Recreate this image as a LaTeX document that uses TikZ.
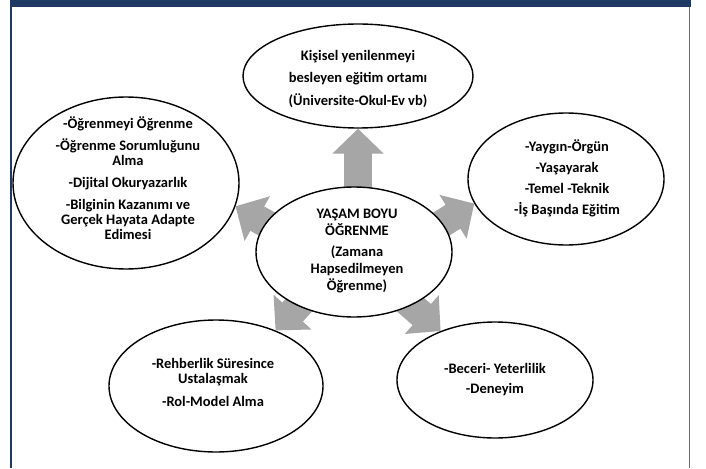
\documentclass[tikz,border=0pt]{standalone}
\usepackage{fontspec}
\setmainfont{Carlito}
\usetikzlibrary{arrows.meta,backgrounds,shapes.geometric}
\definecolor{navy}{RGB}{31,56,100}
\definecolor{sideblue}{RGB}{90,108,145}
\definecolor{arrowgray}{RGB}{166,166,166}
\begin{document}
\begin{tikzpicture}[x=1pt,y=-1pt,
  bub/.style={ellipse, draw=black, line width=1.4pt, fill=white, inner sep=0pt},
  txt/.style={align=center, inner sep=0pt, font=\bfseries\fontsize{14.5}{15}\selectfont},
  blk/.style={draw=arrowgray, line width=28pt, -{Triangle[length=25pt,width=50pt]}, shorten <=-10pt}]
\useasboundingbox (0,0) rectangle (706,468);
% frame
\fill[navy] (10,0) rectangle (691,7);
\draw[navy, line width=1.6pt] (11,7) -- (11,468);
\draw[sideblue, line width=1.6pt] (689.5,7) -- (689.5,468);
% ellipses
\node[bub, minimum width=230pt, minimum height=104pt] (top) at (358,76) {};
\node[bub, minimum width=226pt, minimum height=172pt] (lft) at (126,183) {};
\node[bub, minimum width=196pt, minimum height=132pt] (rgt) at (566,179) {};
\node[bub, minimum width=196pt, minimum height=130pt] (ctr) at (354,252) {};
\node[bub, minimum width=214pt, minimum height=132pt] (bl) at (216,386) {};
\node[bub, minimum width=196pt, minimum height=116pt] (br) at (495,380) {};
% texts
\node[txt] (topt) at (358,79) {Kişisel yenilenmeyi\\[7pt]besleyen eğitim ortamı\\[8pt](Üniversite-Okul-Ev vb)};
\node[txt] (lftt) at (128,178) {-Öğrenmeyi Öğrenme\\[7pt]-Öğrenme Sorumluğunu\\Alma\\[7pt]-Dijital Okuryazarlık\\[7pt]-Bilginin Kazanımı ve\\Gerçek Hayata Adapte\\Edimesi};
\node[txt] (rgtt) at (567,178) {-Yaygın-Örgün\\[6pt]-Yaşayarak\\[6pt]-Temel -Teknik\\[6pt]-İş Başında Eğitim};
\node[txt, font=\bfseries\fontsize{14.5}{17}\selectfont] (ctrt) at (357,251) {YAŞAM BOYU\\ÖĞRENME\\[4pt](Zamana\\Hapsedilmeyen\\Öğrenme)};
\node[txt] (blt) at (213,382) {-Rehberlik Süresince\\Ustalaşmak\\[8pt]-Rol-Model Alma};
\node[txt] (brt) at (495,380) {-Beceri- Yeterlilik\\[5pt]-Deneyim};
% block arrows
\begin{scope}[on background layer]
\draw[blk] (top.south |- ctr.north) -- (top.south);
\draw[blk] (ctr.162) -- (lft.-12);
\draw[blk] (ctr.18) -- (rgt.195);
\draw[blk] (ctr.224) -- (bl.43);
\draw[blk] (ctr.-43) -- (br.138);
\end{scope}
\end{tikzpicture}
\end{document}
